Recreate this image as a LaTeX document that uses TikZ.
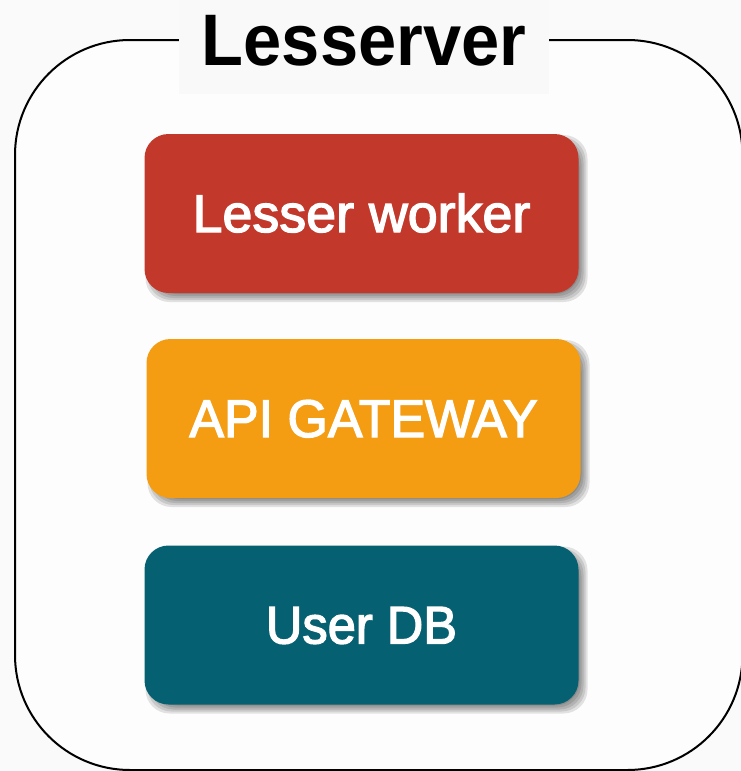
\documentclass[tikz,border=0pt]{standalone}
\usepackage{graphicx}
\usepackage{fontspec}
\setmainfont{Liberation Sans}
\newfontfamily\cardfont[FakeBold=2.5]{Liberation Sans}
\newfontfamily\titlefont[FakeStretch=0.94]{Liberation Sans}
\definecolor{pagebg}{RGB}{250,250,250}
\definecolor{innerbg}{RGB}{253,253,253}
\definecolor{labelbg}{RGB}{249,249,249}
\definecolor{cred}{RGB}{194,57,43}
\definecolor{corange}{RGB}{244,157,18}
\definecolor{cteal}{RGB}{5,96,113}
\tikzset{x=1pt,y=-1pt,
 card/.style={draw=none,rounded corners=24pt,text=white,font=\cardfont\fontsize{53}{53}\selectfont,
   minimum width=434pt,text height=98pt,text depth=61pt,inner sep=0pt},
 softshadow/.style={fill=black,fill opacity=0.11,draw=none,rounded corners=24pt},
 frame/.style={draw=black,line width=2pt,rounded corners=115pt,fill=innerbg},
 titlebox/.style={fill=labelbg,font=\titlefont\bfseries\fontsize{73}{73}\selectfont,text=black,minimum width=370pt,text height=65pt,text depth=29pt,inner sep=0pt}}
\newcommand{\softcardshadow}[2]{%
  \foreach \g in {4,2,...,-4}{%
    \fill[softshadow] (#1-217+5-\g,#2-79.5+5-\g) rectangle (#1+217+5+\g,#2+79.5+5+\g);
  }}
\begin{document}
\begin{tikzpicture}
\useasboundingbox (0,0) rectangle (741,771);
\fill[pagebg] (0,0) rectangle (741,771);
\draw[frame] (15,40) rectangle (742.5,770);
\node[titlebox] (title) at (364,47) {Lesserver};
\softcardshadow{361.5}{213.5}
\softcardshadow{363.5}{418.5}
\softcardshadow{361.5}{625}
\node[card,fill=cred] (worker) at (361.5,213.5) {\scalebox{1.015}[1]{Lesser worker}};
\node[card,fill=corange] (gateway) at (363.5,418.5) {\scalebox{0.98}[1]{API GATEWAY}};
\node[card,fill=cteal] (db) at (361.5,625) {\scalebox{0.955}[1]{User DB}};
\end{tikzpicture}
\end{document}
